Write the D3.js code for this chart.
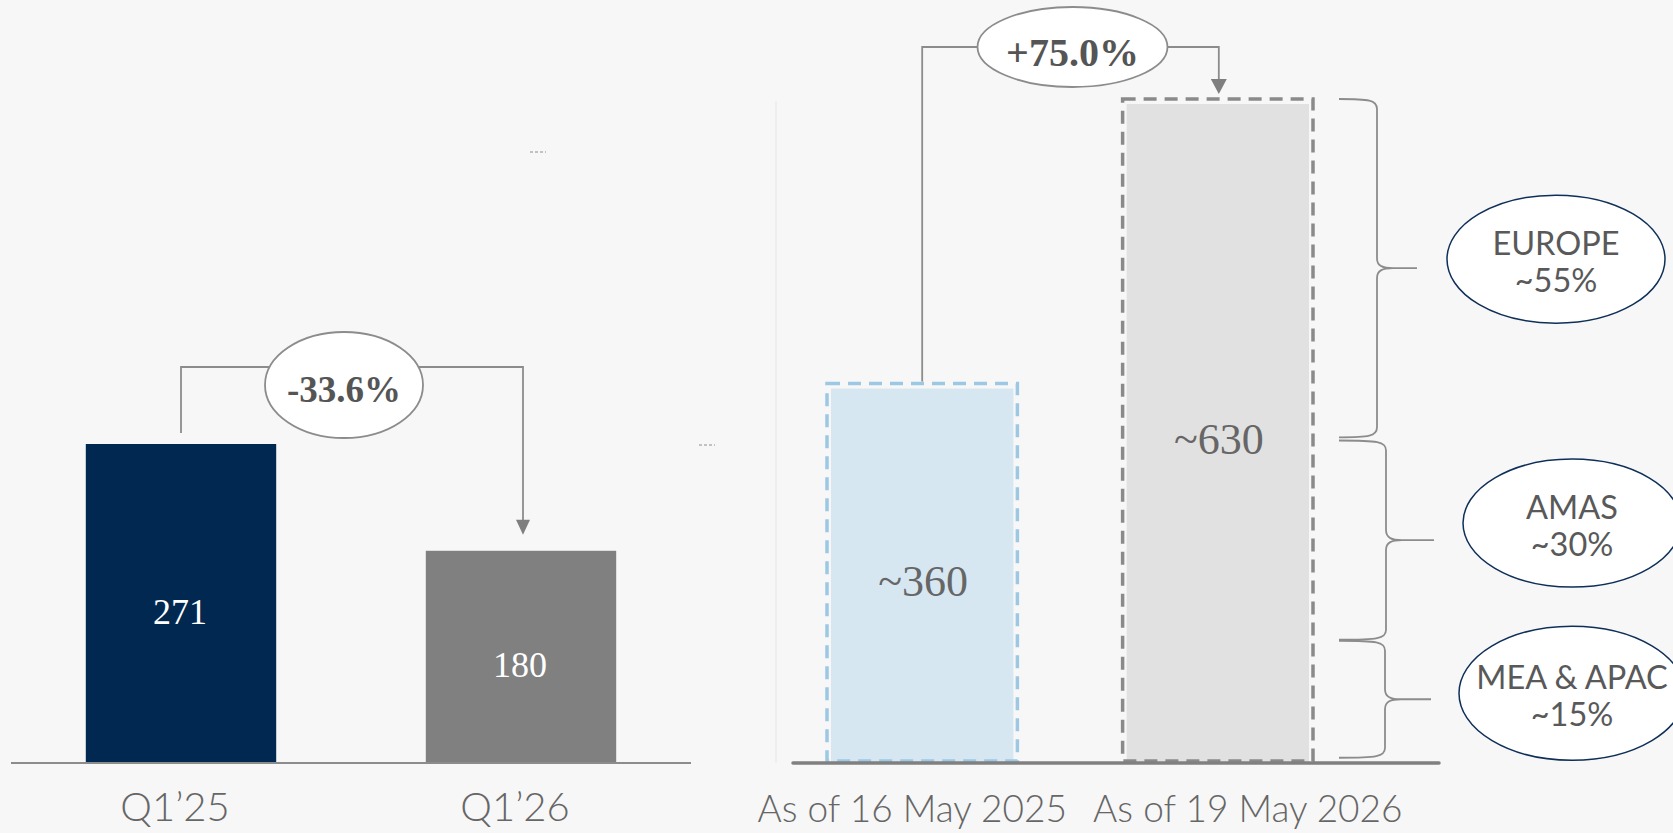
<!DOCTYPE html>
<html>
<head>
<meta charset="utf-8">
<script src="https://cdn.jsdelivr.net/npm/d3@7"></script>
<style>
  html, body { margin: 0; padding: 0; background: #f7f7f7; }
  svg { display: block; }
</style>
</head>
<body>
<svg id="chart" width="1673" height="833"></svg>
<script>
// ---------- data ----------
const leftCategories = ["Q1\u201925", "Q1\u201926"];
const leftValues = [271, 180];
const leftChange = "-33.6%";

const rightCategories = ["As of 16 May 2025", "As of 19 May 2026"];
const rightValues = [360, 630];
const rightLabels = ["~360", "~630"];
const rightChange = "+75.0%";

const regionNames = ["EUROPE", "AMAS", "MEA & APAC"];
const regionShares = ["~55%", "~30%", "~15%"];
const braceTop = [630, 306, 116];     // in bar units (top of each brace)
const braceBottom = [309, 117, 5];    // in bar units (bottom of each brace)

// ---------- setup ----------
const svg = d3.select("#chart");
const serif = "'Liberation Serif', 'DejaVu Serif', serif";
const sans = "Lato, 'Open Sans', sans-serif";

// ---------- left chart ----------
const xL = d3.scaleBand().domain(leftCategories).range([11, 691]).paddingInner(0.44).paddingOuter(0.22);
const yL = d3.scaleLinear().domain([0, 300]).range([762, 762 - 300 * 1.1734]);
const leftColors = ["#002851", "#808080"];

const gL = svg.append("g");
gL.selectAll("rect.bar").data(leftValues).join("rect")
  .attr("class", "bar")
  .attr("x", (d, i) => xL(leftCategories[i]))
  .attr("y", d => yL(d))
  .attr("width", xL.bandwidth())
  .attr("height", d => yL(0) - yL(d))
  .attr("fill", (d, i) => leftColors[i]);

gL.append("line")
  .attr("x1", 11).attr("x2", 691).attr("y1", yL(0) + 1).attr("y2", yL(0) + 1)
  .attr("stroke", "#8c8c8c").attr("stroke-width", 2);

gL.selectAll("text.val").data(leftValues).join("text")
  .attr("class", "val")
  .attr("x", (d, i) => xL(leftCategories[i]) + xL.bandwidth() / 2 - 1)
  .attr("y", d => (yL(d) + yL(0)) / 2 + 9)
  .attr("text-anchor", "middle").attr("dominant-baseline", "central")
  .attr("font-family", serif).attr("font-size", 36).attr("fill", "#ffffff")
  .text(d => d);

gL.selectAll("text.cat").data(leftCategories).join("text")
  .attr("class", "cat")
  .attr("x", d => xL(d) + xL.bandwidth() / 2 - 6)
  .attr("y", 821)
  .attr("text-anchor", "middle")
  .attr("font-family", sans).attr("font-weight", 300).attr("font-size", 40).attr("fill", "#666666")
  .text(d => d);

// left change bracket
{
  const x1 = xL(leftCategories[0]) + xL.bandwidth() / 2;
  const x2 = xL(leftCategories[1]) + xL.bandwidth() / 2 + 2;
  const y0 = yL(leftValues[0]) - 11;
  const yLine = 367;
  const yTip = yL(leftValues[1]) - 16;
  gL.append("path")
    .attr("d", `M${x1},${y0} V${yLine} H${x2} V${yTip - 14}`)
    .attr("fill", "none").attr("stroke", "#8c8c8c").attr("stroke-width", 1.8);
  gL.append("path")
    .attr("d", `M${x2 - 7},${yTip - 15} L${x2 + 7},${yTip - 15} L${x2},${yTip} Z`)
    .attr("fill", "#7f7f7f");
  const cx = (x1 + x2) / 2 - 8, cy = 385;
  gL.append("ellipse").attr("cx", cx).attr("cy", cy).attr("rx", 79).attr("ry", 53)
    .attr("fill", "#ffffff").attr("stroke", "#8c8c8c").attr("stroke-width", 1.8);
  gL.append("text").attr("x", cx).attr("y", cy + 4)
    .attr("text-anchor", "middle").attr("dominant-baseline", "central")
    .attr("font-family", serif).attr("font-weight", "bold").attr("font-size", 37).attr("fill", "#555555")
    .text(leftChange);
}

// small stray dashes
svg.append("line").attr("x1", 530).attr("x2", 546).attr("y1", 152).attr("y2", 152)
  .attr("stroke", "#8c8c8c").attr("stroke-width", 1).attr("stroke-dasharray", "3,2");
svg.append("line").attr("x1", 699).attr("x2", 715).attr("y1", 445).attr("y2", 445)
  .attr("stroke", "#8c8c8c").attr("stroke-width", 1).attr("stroke-dasharray", "3,2");

// ---------- right chart ----------
const xR = d3.scaleBand().domain(rightCategories).range([827, 1313]).paddingInner(0.356).paddingOuter(0);
const yR = d3.scaleLinear().domain([0, 630]).range([763, 99]);
const rFill = ["#d6e7f2", "#e1e1e1"];
const rStroke = ["#9cc8e3", "#8a8a8a"];

const gR = svg.append("g");
// faint vertical divider
gR.append("line").attr("x1", 776).attr("x2", 776).attr("y1", 101).attr("y2", 763)
  .attr("stroke", "#ebebeb").attr("stroke-width", 1.5);

gR.selectAll("rect.fill").data(rightValues).join("rect")
  .attr("class", "fill")
  .attr("x", (d, i) => xR(rightCategories[i]) + 4)
  .attr("y", d => yR(d) + 5)
  .attr("width", xR.bandwidth() - 8)
  .attr("height", d => yR(0) - yR(d) - 5)
  .attr("fill", (d, i) => rFill[i]);

gR.selectAll("rect.outline").data(rightValues).join("rect")
  .attr("class", "outline")
  .attr("x", (d, i) => xR(rightCategories[i]))
  .attr("y", d => yR(d))
  .attr("width", xR.bandwidth())
  .attr("height", d => yR(0) - yR(d) - 2)
  .attr("fill", "none")
  .attr("stroke", (d, i) => rStroke[i])
  .attr("stroke-width", 3.5)
  .attr("stroke-dasharray", "13,8");

gR.append("line")
  .attr("x1", 793).attr("x2", 1439).attr("y1", yR(0)).attr("y2", yR(0))
  .attr("stroke", "#808080").attr("stroke-width", 3.5).attr("stroke-linecap", "round");

gR.selectAll("text.val").data(rightLabels).join("text")
  .attr("class", "val")
  .attr("x", (d, i) => xR(rightCategories[i]) + xR.bandwidth() / 2 + 1)
  .attr("y", (d, i) => (yR(rightValues[i]) + yR(0)) / 2 + 8)
  .attr("text-anchor", "middle").attr("dominant-baseline", "central")
  .attr("font-family", serif).attr("font-size", 44).attr("fill", "#666666")
  .text(d => d);

const catOffsets = [-10, 30];
gR.selectAll("text.cat").data(rightCategories).join("text")
  .attr("class", "cat")
  .attr("x", (d, i) => xR(d) + xR.bandwidth() / 2 + catOffsets[i])
  .attr("y", 822)
  .attr("text-anchor", "middle")
  .attr("font-family", sans).attr("font-weight", 300).attr("font-size", 37).attr("fill", "#666666")
  .text(d => d);

// right change bracket
{
  const x1 = xR(rightCategories[0]) + xR.bandwidth() / 2;
  const x2 = xR(rightCategories[1]) + xR.bandwidth() / 2 + 1;
  const y0 = yR(rightValues[0]) - 2;
  const yLine = 47;
  const yTip = yR(rightValues[1]) - 5;
  gR.append("path")
    .attr("d", `M${x1},${y0} V${yLine} H${x2} V${yTip - 14}`)
    .attr("fill", "none").attr("stroke", "#8c8c8c").attr("stroke-width", 1.8);
  gR.append("path")
    .attr("d", `M${x2 - 8},${yTip - 15} L${x2 + 8},${yTip - 15} L${x2},${yTip} Z`)
    .attr("fill", "#7f7f7f");
  const cx = (x1 + x2) / 2 + 2, cy = 47;
  gR.append("ellipse").attr("cx", cx).attr("cy", cy).attr("rx", 95).attr("ry", 40)
    .attr("fill", "#ffffff").attr("stroke", "#8c8c8c").attr("stroke-width", 1.8);
  gR.append("text").attr("x", cx).attr("y", cy + 5)
    .attr("text-anchor", "middle").attr("dominant-baseline", "central")
    .attr("font-family", serif).attr("font-weight", "bold").attr("font-size", 40).attr("fill", "#555555")
    .text(rightChange);
}

// braces + region ellipses
const braceLeft = 1339;
const braceVert = [1377, 1386, 1385];
const braceTip = [1417, 1434, 1431];
const ellCx = [1556, 1572, 1572];
const ellRx = [109, 109, 113];
const ellRy = [64, 64, 67];
const ellDy = [-9, -17, -6];

regionNames.forEach((name, i) => {
  const yt = yR(braceTop[i]), yb = yR(braceBottom[i]);
  const ym = (yt + yb) / 2;
  const xv = braceVert[i], xt = braceTip[i], xl = braceLeft;
  const r = 10;
  const d = `M${xl},${yt} C${xv - 8},${yt} ${xv},${yt + 1} ${xv},${yt + r}` +
            ` L${xv},${ym - r} C${xv},${ym - 2} ${xv + 6},${ym} ${xv + 16},${ym} L${xt},${ym}` +
            ` M${xv + 16},${ym} C${xv + 6},${ym} ${xv},${ym + 2} ${xv},${ym + r}` +
            ` L${xv},${yb - r} C${xv},${yb - 1} ${xv - 8},${yb} ${xl},${yb}`;
  gR.append("path").attr("d", d).attr("fill", "none")
    .attr("stroke", "#8c8c8c").attr("stroke-width", 1.8);

  const cy = ym + ellDy[i];
  gR.append("ellipse").attr("cx", ellCx[i]).attr("cy", cy).attr("rx", ellRx[i]).attr("ry", ellRy[i])
    .attr("fill", "#ffffff").attr("stroke", "#0e2f58").attr("stroke-width", 1.5);
  gR.append("text").attr("x", ellCx[i]).attr("y", cy - 17)
    .attr("text-anchor", "middle").attr("dominant-baseline", "central")
    .attr("font-family", sans).attr("font-size", 32.5).attr("fill", "#595959")
    .text(name);
  gR.append("text").attr("x", ellCx[i]).attr("y", cy + 20)
    .attr("text-anchor", "middle").attr("dominant-baseline", "central")
    .attr("font-family", sans).attr("font-size", 32.5).attr("fill", "#595959")
    .text(regionShares[i]);
});
</script>
</body>
</html>
